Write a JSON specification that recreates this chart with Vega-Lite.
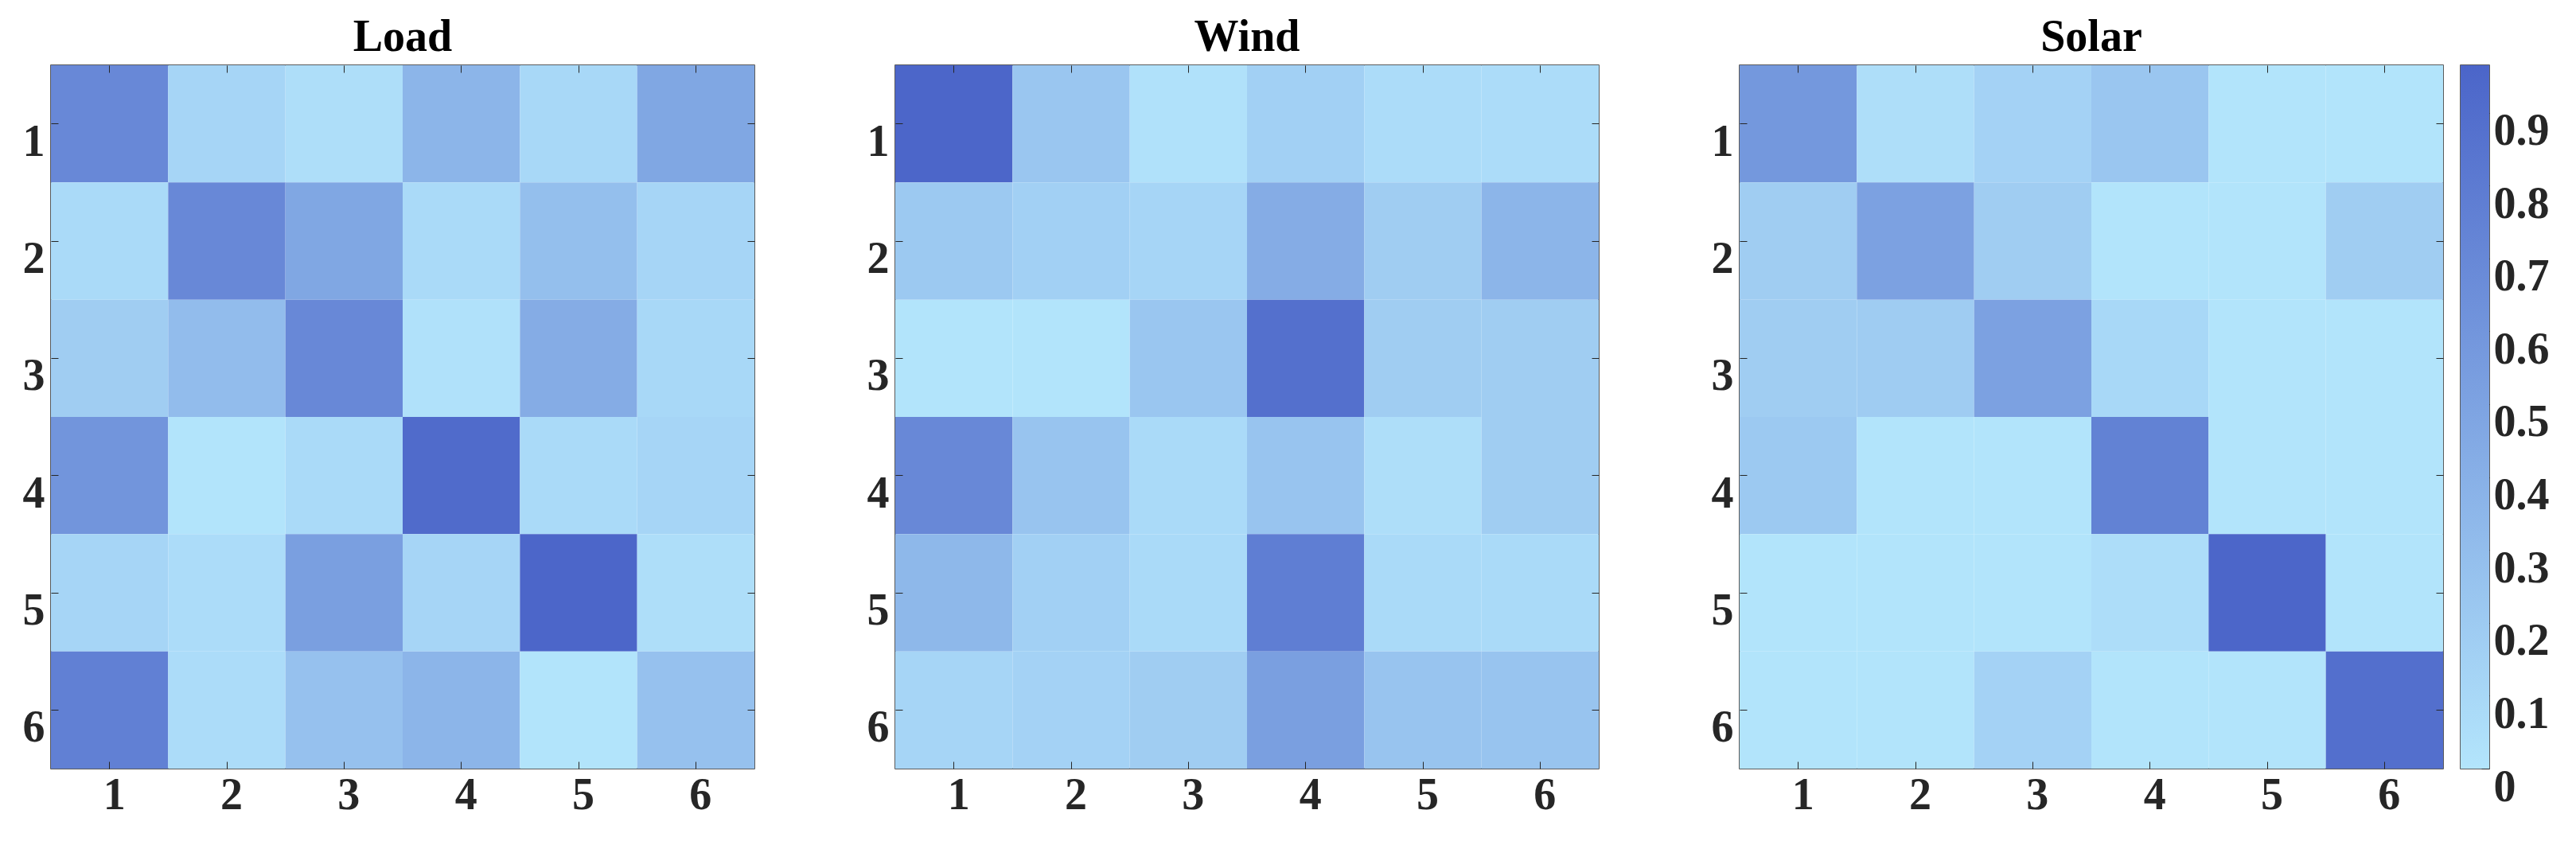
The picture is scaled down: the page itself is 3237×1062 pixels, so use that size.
{
  "$schema": "https://vega.github.io/schema/vega-lite/v6.json",
  "background": "white",
  "padding": {"left": 27, "top": 17, "right": 0, "bottom": 0},
  "config": {
    "view": {"stroke": "#262626", "strokeWidth": 1.5},
    "font": "Liberation Serif",
    "title": {"font": "Liberation Serif", "fontSize": 56, "fontWeight": "bold", "color": "#000000", "baseline": "alphabetic", "offset": 6},
    "axis": {
      "labelFont": "Liberation Serif", "labelFontSize": 56, "labelFontWeight": "bold", "labelColor": "#262626",
      "tickColor": "#262626", "tickWidth": 1, "domain": false, "grid": false, "title": null
    }
  },
  "data": {"values": [
    {"src":"Load","row":1,"col":1,"v":0.70},{"src":"Load","row":1,"col":2,"v":0.12},{"src":"Load","row":1,"col":3,"v":0.05},{"src":"Load","row":1,"col":4,"v":0.36},{"src":"Load","row":1,"col":5,"v":0.10},{"src":"Load","row":1,"col":6,"v":0.47},
    {"src":"Load","row":2,"col":1,"v":0.08},{"src":"Load","row":2,"col":2,"v":0.70},{"src":"Load","row":2,"col":3,"v":0.47},{"src":"Load","row":2,"col":4,"v":0.08},{"src":"Load","row":2,"col":5,"v":0.29},{"src":"Load","row":2,"col":6,"v":0.12},
    {"src":"Load","row":3,"col":1,"v":0.18},{"src":"Load","row":3,"col":2,"v":0.31},{"src":"Load","row":3,"col":3,"v":0.70},{"src":"Load","row":3,"col":4,"v":0.03},{"src":"Load","row":3,"col":5,"v":0.43},{"src":"Load","row":3,"col":6,"v":0.10},
    {"src":"Load","row":4,"col":1,"v":0.60},{"src":"Load","row":4,"col":2,"v":0.01},{"src":"Load","row":4,"col":3,"v":0.08},{"src":"Load","row":4,"col":4,"v":0.92},{"src":"Load","row":4,"col":5,"v":0.08},{"src":"Load","row":4,"col":6,"v":0.12},
    {"src":"Load","row":5,"col":1,"v":0.12},{"src":"Load","row":5,"col":2,"v":0.065},{"src":"Load","row":5,"col":3,"v":0.53},{"src":"Load","row":5,"col":4,"v":0.12},{"src":"Load","row":5,"col":5,"v":0.96},{"src":"Load","row":5,"col":6,"v":0.05},
    {"src":"Load","row":6,"col":1,"v":0.76},{"src":"Load","row":6,"col":2,"v":0.065},{"src":"Load","row":6,"col":3,"v":0.27},{"src":"Load","row":6,"col":4,"v":0.36},{"src":"Load","row":6,"col":5,"v":0.01},{"src":"Load","row":6,"col":6,"v":0.27},
    {"src":"Wind","row":1,"col":1,"v":0.96},{"src":"Wind","row":1,"col":2,"v":0.23},{"src":"Wind","row":1,"col":3,"v":0.03},{"src":"Wind","row":1,"col":4,"v":0.16},{"src":"Wind","row":1,"col":5,"v":0.065},{"src":"Wind","row":1,"col":6,"v":0.065},
    {"src":"Wind","row":2,"col":1,"v":0.21},{"src":"Wind","row":2,"col":2,"v":0.16},{"src":"Wind","row":2,"col":3,"v":0.12},{"src":"Wind","row":2,"col":4,"v":0.43},{"src":"Wind","row":2,"col":5,"v":0.18},{"src":"Wind","row":2,"col":6,"v":0.36},
    {"src":"Wind","row":3,"col":1,"v":0.01},{"src":"Wind","row":3,"col":2,"v":0.01},{"src":"Wind","row":3,"col":3,"v":0.23},{"src":"Wind","row":3,"col":4,"v":0.88},{"src":"Wind","row":3,"col":5,"v":0.18},{"src":"Wind","row":3,"col":6,"v":0.18},
    {"src":"Wind","row":4,"col":1,"v":0.70},{"src":"Wind","row":4,"col":2,"v":0.25},{"src":"Wind","row":4,"col":3,"v":0.08},{"src":"Wind","row":4,"col":4,"v":0.25},{"src":"Wind","row":4,"col":5,"v":0.05},{"src":"Wind","row":4,"col":6,"v":0.18},
    {"src":"Wind","row":5,"col":1,"v":0.34},{"src":"Wind","row":5,"col":2,"v":0.16},{"src":"Wind","row":5,"col":3,"v":0.08},{"src":"Wind","row":5,"col":4,"v":0.78},{"src":"Wind","row":5,"col":5,"v":0.08},{"src":"Wind","row":5,"col":6,"v":0.08},
    {"src":"Wind","row":6,"col":1,"v":0.12},{"src":"Wind","row":6,"col":2,"v":0.14},{"src":"Wind","row":6,"col":3,"v":0.18},{"src":"Wind","row":6,"col":4,"v":0.53},{"src":"Wind","row":6,"col":5,"v":0.25},{"src":"Wind","row":6,"col":6,"v":0.25},
    {"src":"Solar","row":1,"col":1,"v":0.58},{"src":"Solar","row":1,"col":2,"v":0.05},{"src":"Solar","row":1,"col":3,"v":0.14},{"src":"Solar","row":1,"col":4,"v":0.23},{"src":"Solar","row":1,"col":5,"v":0.01},{"src":"Solar","row":1,"col":6,"v":0.01},
    {"src":"Solar","row":2,"col":1,"v":0.18},{"src":"Solar","row":2,"col":2,"v":0.51},{"src":"Solar","row":2,"col":3,"v":0.18},{"src":"Solar","row":2,"col":4,"v":0.01},{"src":"Solar","row":2,"col":5,"v":0.01},{"src":"Solar","row":2,"col":6,"v":0.18},
    {"src":"Solar","row":3,"col":1,"v":0.18},{"src":"Solar","row":3,"col":2,"v":0.19},{"src":"Solar","row":3,"col":3,"v":0.51},{"src":"Solar","row":3,"col":4,"v":0.10},{"src":"Solar","row":3,"col":5,"v":0.01},{"src":"Solar","row":3,"col":6,"v":0.01},
    {"src":"Solar","row":4,"col":1,"v":0.21},{"src":"Solar","row":4,"col":2,"v":0.01},{"src":"Solar","row":4,"col":3,"v":0.01},{"src":"Solar","row":4,"col":4,"v":0.75},{"src":"Solar","row":4,"col":5,"v":0.01},{"src":"Solar","row":4,"col":6,"v":0.01},
    {"src":"Solar","row":5,"col":1,"v":0.01},{"src":"Solar","row":5,"col":2,"v":0.01},{"src":"Solar","row":5,"col":3,"v":0.01},{"src":"Solar","row":5,"col":4,"v":0.06},{"src":"Solar","row":5,"col":5,"v":0.96},{"src":"Solar","row":5,"col":6,"v":0.01},
    {"src":"Solar","row":6,"col":1,"v":0.01},{"src":"Solar","row":6,"col":2,"v":0.01},{"src":"Solar","row":6,"col":3,"v":0.14},{"src":"Solar","row":6,"col":4,"v":0.01},{"src":"Solar","row":6,"col":5,"v":0.01},{"src":"Solar","row":6,"col":6,"v":0.89}
  ]},
  "spacing": 19,
  "hconcat": [
    {
      "bounds": "flush",
      "spacing": 177,
      "hconcat": [
        {
          "title": "Load", "width": 884, "height": 884,
          "transform": [{"filter": "datum.src === 'Load'"}],
          "layer": [
            {"mark": {"type": "rect"}, "encoding": {
              "x": {"field": "col", "type": "ordinal", "scale": {"paddingInner": 0, "paddingOuter": 0}, "axis": {"orient": "bottom", "labelAngle": 0, "tickSize": -9, "labelPadding": 15, "labelOffset": 6}},
              "y": {"field": "row", "type": "ordinal", "scale": {"paddingInner": 0, "paddingOuter": 0}, "axis": {"orient": "left", "tickSize": -9, "labelPadding": 17, "labelBaseline": "top", "labelOffset": -4}},
              "color": {"field": "v", "type": "quantitative", "scale": {"domain": [0, 0.965], "range": ["#B3E5FC", "#4B65C9"], "interpolate": "rgb"}, "legend": null}
            }},
            {"mark": {"type": "rect", "opacity": 0}, "encoding": {
              "x": {"field": "col", "type": "ordinal", "scale": {"paddingInner": 0, "paddingOuter": 0}, "axis": {"orient": "top", "labels": false, "tickSize": -9}},
              "y": {"field": "row", "type": "ordinal", "scale": {"paddingInner": 0, "paddingOuter": 0}, "axis": {"orient": "right", "labels": false, "tickSize": -9}}
            }}
          ],
          "resolve": {"axis": {"x": "independent", "y": "independent"}}
        },
        {
          "title": "Wind", "width": 884, "height": 884,
          "transform": [{"filter": "datum.src === 'Wind'"}],
          "layer": [
            {"mark": {"type": "rect"}, "encoding": {
              "x": {"field": "col", "type": "ordinal", "scale": {"paddingInner": 0, "paddingOuter": 0}, "axis": {"orient": "bottom", "labelAngle": 0, "tickSize": -9, "labelPadding": 15, "labelOffset": 6}},
              "y": {"field": "row", "type": "ordinal", "scale": {"paddingInner": 0, "paddingOuter": 0}, "axis": {"orient": "left", "tickSize": -9, "labelPadding": 17, "labelBaseline": "top", "labelOffset": -4}},
              "color": {"field": "v", "type": "quantitative", "scale": {"domain": [0, 0.965], "range": ["#B3E5FC", "#4B65C9"], "interpolate": "rgb"}, "legend": null}
            }},
            {"mark": {"type": "rect", "opacity": 0}, "encoding": {
              "x": {"field": "col", "type": "ordinal", "scale": {"paddingInner": 0, "paddingOuter": 0}, "axis": {"orient": "top", "labels": false, "tickSize": -9}},
              "y": {"field": "row", "type": "ordinal", "scale": {"paddingInner": 0, "paddingOuter": 0}, "axis": {"orient": "right", "labels": false, "tickSize": -9}}
            }}
          ],
          "resolve": {"axis": {"x": "independent", "y": "independent"}}
        },
        {
          "title": "Solar", "width": 884, "height": 884,
          "transform": [{"filter": "datum.src === 'Solar'"}],
          "layer": [
            {"mark": {"type": "rect"}, "encoding": {
              "x": {"field": "col", "type": "ordinal", "scale": {"paddingInner": 0, "paddingOuter": 0}, "axis": {"orient": "bottom", "labelAngle": 0, "tickSize": -9, "labelPadding": 15, "labelOffset": 6}},
              "y": {"field": "row", "type": "ordinal", "scale": {"paddingInner": 0, "paddingOuter": 0}, "axis": {"orient": "left", "tickSize": -9, "labelPadding": 17, "labelBaseline": "top", "labelOffset": -4}},
              "color": {"field": "v", "type": "quantitative", "scale": {"domain": [0, 0.965], "range": ["#B3E5FC", "#4B65C9"], "interpolate": "rgb"}, "legend": null}
            }},
            {"mark": {"type": "rect", "opacity": 0}, "encoding": {
              "x": {"field": "col", "type": "ordinal", "scale": {"paddingInner": 0, "paddingOuter": 0}, "axis": {"orient": "top", "labels": false, "tickSize": -9}},
              "y": {"field": "row", "type": "ordinal", "scale": {"paddingInner": 0, "paddingOuter": 0}, "axis": {"orient": "right", "labels": false, "tickSize": -9}}
            }}
          ],
          "resolve": {"axis": {"x": "independent", "y": "independent"}}
        }
      ]
    },
    {
      "width": 36, "height": 884,
      "data": {"values": [{"k": "c", "lo": 0, "hi": 0.965}]},
      "mark": {"type": "rect", "color": {"gradient": "linear", "x1": 0, "y1": 1, "x2": 0, "y2": 0, "stops": [{"offset": 0, "color": "#B3E5FC"}, {"offset": 1, "color": "#4B65C9"}]}},
      "encoding": {
        "x": {"field": "k", "type": "nominal", "scale": {"paddingInner": 0, "paddingOuter": 0}, "axis": null},
        "y": {"field": "lo", "type": "quantitative", "scale": {"domain": [0, 0.965], "nice": false, "zero": false}, "axis": {"orient": "right", "values": [0, 0.1, 0.2, 0.3, 0.4, 0.5, 0.6, 0.7, 0.8, 0.9], "format": "~g", "tickSize": -10, "labelPadding": 15, "labelBaseline": "top", "labelOffset": -4}},
        "y2": {"field": "hi"}
      }
    }
  ]
}
